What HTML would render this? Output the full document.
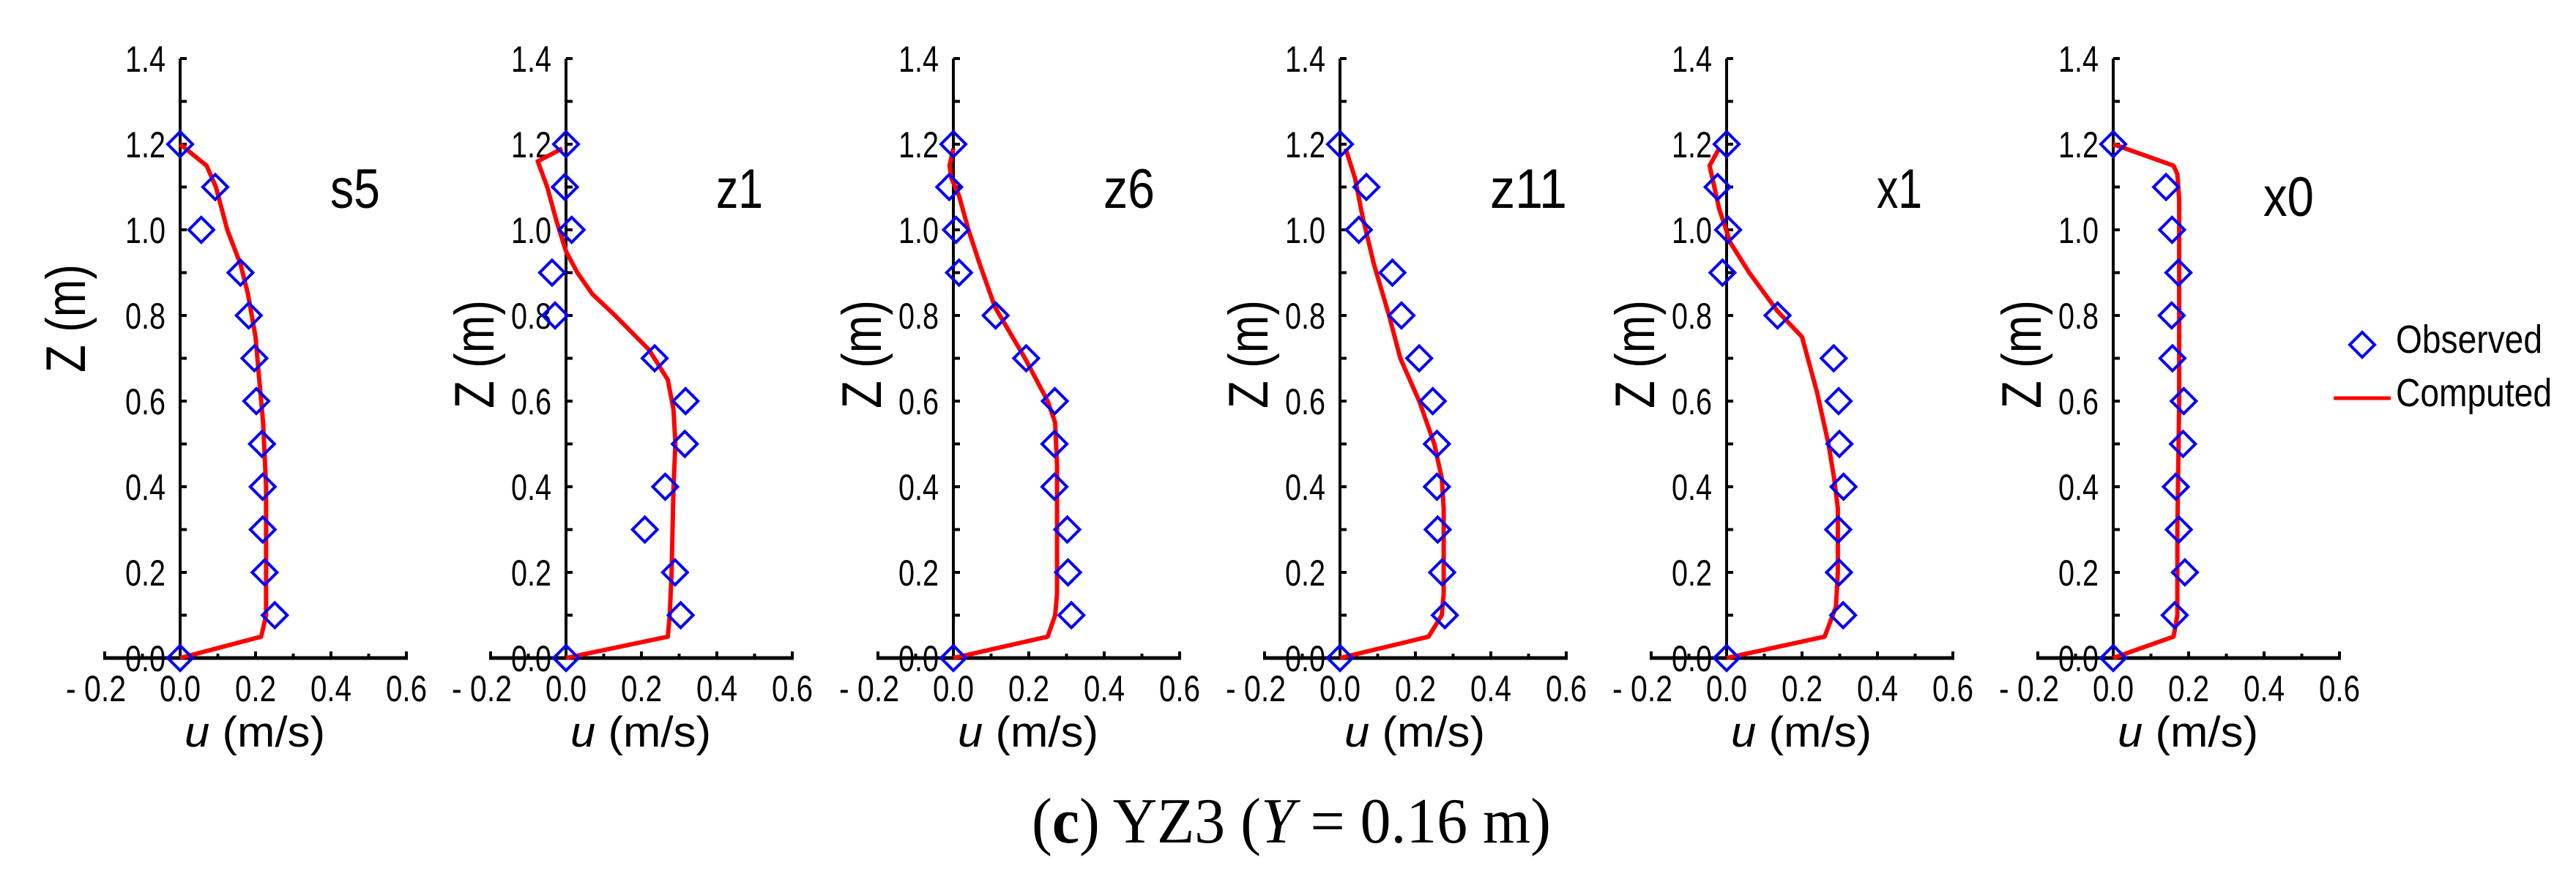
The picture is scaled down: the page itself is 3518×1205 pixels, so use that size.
<!DOCTYPE html>
<html><head><meta charset="utf-8">
<style>
html,body{margin:0;padding:0;background:#fff;}
svg{display:block;}
</style></head>
<body>
<svg id="chart" width="3518" height="1205" viewBox="0 0 3518 1205" xmlns="http://www.w3.org/2000/svg" font-family="'Liberation Sans', Arial, sans-serif">
<rect width="3518" height="1205" fill="#fff"/>
<g id="panels"></g>
<g>
  <path d="M3209 471 L3226 454 L3243 471 L3226 488 Z" fill="none" stroke="#0000ff" stroke-width="4"/>
  <text x="3272" y="482" font-size="54" textLength="200" lengthAdjust="spacingAndGlyphs">Observed</text>
  <line x1="3187" y1="544" x2="3265" y2="544" stroke="#ff0000" stroke-width="5"/>
  <text x="3272" y="555" font-size="54" textLength="213" lengthAdjust="spacingAndGlyphs">Computed</text>
</g>
<text x="1409" y="1151" font-family="'Liberation Serif', serif" font-size="88" textLength="709" lengthAdjust="spacingAndGlyphs">(<tspan font-weight="bold">c</tspan>) YZ3 (<tspan font-style="italic">Y</tspan> = 0.16 m)</text>
</svg>
<script>
// ---- data ----
const panelNames = ["s5","z1","z6","z11","x1","x0"];
const obsZ = [0,0.1,0.2,0.3,0.4,0.5,0.6,0.7,0.8,0.9,1.0,1.1,1.2];
const obsU_s5  = [0,0.251,0.224,0.219,0.219,0.217,0.202,0.197,0.182,0.160,0.056,0.093,0];
const obsU_z1  = [0,0.304,0.289,0.209,0.263,0.315,0.317,0.235,-0.029,-0.037,0.015,-0.003,0];
const obsU_z6  = [0,0.313,0.304,0.302,0.268,0.268,0.269,0.193,0.112,0.015,0.007,-0.011,0];
const obsU_z11 = [0,0.278,0.271,0.259,0.257,0.257,0.246,0.210,0.163,0.139,0.050,0.070,0];
const obsU_x1  = [0,0.309,0.298,0.296,0.310,0.299,0.297,0.284,0.135,-0.011,0.004,-0.024,0];
const obsU_x0  = [0,0.163,0.190,0.174,0.166,0.185,0.187,0.157,0.155,0.173,0.156,0.140,0];
const compZ_s5  = [0,0.05,0.1,0.4,0.55,0.65,0.75,0.85,0.92,1.0,1.1,1.15,1.2];
const compU_s5  = [0,0.215,0.228,0.228,0.22,0.21,0.2,0.18,0.16,0.125,0.095,0.07,0];
const compZ_z1  = [0,0.05,0.1,0.2,0.4,0.5,0.58,0.65,0.72,0.8,0.85,0.9,0.95,1.02,1.1,1.16,1.19];
const compU_z1  = [0,0.27,0.275,0.28,0.285,0.29,0.285,0.27,0.22,0.13,0.07,0.03,0.0,-0.025,-0.05,-0.075,-0.01];
const compZ_z6  = [0,0.05,0.1,0.15,0.45,0.55,0.6,0.7,0.82,0.92,1.0,1.08,1.12,1.15,1.19];
const compU_z6  = [0,0.25,0.27,0.275,0.275,0.27,0.25,0.19,0.11,0.07,0.04,0.015,-0.005,-0.01,0];
const compZ_z11 = [0,0.05,0.1,0.15,0.35,0.42,0.5,0.6,0.7,0.8,0.92,1.03,1.12,1.19];
const compU_z11 = [0,0.235,0.27,0.275,0.275,0.27,0.25,0.21,0.16,0.13,0.09,0.06,0.04,0.015];
const compZ_x1  = [0,0.05,0.12,0.2,0.35,0.42,0.5,0.62,0.75,0.81,0.9,0.97,1.05,1.15,1.19];
const compU_x1  = [0,0.26,0.29,0.295,0.295,0.285,0.27,0.24,0.2,0.135,0.06,0.01,-0.02,-0.045,-0.02];
const compZ_x0  = [0,0.05,0.1,0.3,0.6,1.07,1.13,1.15,1.2];
const compU_x0  = [0,0.16,0.17,0.17,0.175,0.175,0.17,0.16,0];
const xTickVals = [-0.2,0.0,0.2,0.4,0.6];
const xTickLabels = ["- 0.2","0.0","0.2","0.4","0.6"];
const yTickVals = [0,0.2,0.4,0.6,0.8,1.0,1.2,1.4];
const yTickLabels = ["0.0","0.2","0.4","0.6","0.8","1.0","1.2","1.4"];

const obsU = [obsU_s5,obsU_z1,obsU_z6,obsU_z11,obsU_x1,obsU_x0];
const compZ = [compZ_s5,compZ_z1,compZ_z6,compZ_z11,compZ_x1,compZ_x0];
const compU = [compU_s5,compU_z1,compU_z6,compU_z11,compU_x1,compU_x0];

// ---- layout ----
const NS = "http://www.w3.org/2000/svg";
const origins = [246,773,1302,1830,2358,2886];
const Y0 = 899, PXZ = 585, PXU = 515;
const labelW = {"s5":68,"z1":64,"z6":70,"z11":105,"x1":62,"x0":69};
function mk(tag, attrs, parent){const e=document.createElementNS(NS,tag);for(const k in attrs)e.setAttribute(k,attrs[k]);parent.appendChild(e);return e;}
const root = document.getElementById('panels');

panelNames.forEach((name,i)=>{
  const ox = origins[i];
  const xs = u => ox + u*PXU;
  const ys = z => Y0 - z*PXZ;
  const g = mk('g',{},root);
  
  
  // axes
  const ya = mk('line',{x1:ox,y1:ys(1.4),x2:ox,y2:Y0,stroke:'#000','stroke-width':4},g);
  
  
  const xa = mk('line',{x1:xs(-0.2)-2,y1:Y0,x2:xs(0.6)+2,y2:Y0,stroke:'#000','stroke-width':5},g);
  
  
  for(let k=0;k<=14;k++){
    const t = mk('line',{x1:ox,y1:ys(k/10),x2:ox+9,y2:ys(k/10),stroke:'#000','stroke-width':4},g);
    
    
  }
  for(let k=-2;k<=6;k++){
    const t = mk('line',{x1:xs(k/10),y1:Y0,x2:xs(k/10),y2:Y0-(k%2===0?9:6),stroke:'#000','stroke-width':4},g);
    
    
  }
  yTickVals.forEach((v,j)=>{
    const t = mk('text',{x:ox-20,y:ys(v)+18,'text-anchor':'end','font-size':50,textLength:55,lengthAdjust:'spacingAndGlyphs'},g);
    t.textContent = yTickLabels[j];
    
    
  });
  xTickVals.forEach((v,j)=>{
    const w = xTickLabels[j].length>3?82:56;
    const cx = v<0 ? xs(v)-12 : xs(v);
    const t = mk('text',{x:cx-w/2,y:958,'font-size':50,textLength:w,lengthAdjust:'spacingAndGlyphs'},g);
    t.textContent = xTickLabels[j];
    
    
  });
  // axis titles
  const xt = mk('text',{x:ox+6,y:1020,'font-size':58,textLength:192,lengthAdjust:'spacingAndGlyphs'},g);
  xt.innerHTML = '<tspan font-style="italic">u</tspan> (m/s)';
  
  
  const bx = i===0 ? ox-130 : ox-99;
  const cy = i===0 ? 435 : 484;
  const yt = mk('text',{x:0,y:0,'font-size':76,'text-anchor':'middle',transform:`translate(${bx},${cy}) rotate(-90)`,textLength:148,lengthAdjust:'spacingAndGlyphs'},g);
  yt.textContent = 'Z (m)';
  
  
  // panel label
  const pl = mk('text',{x:ox+205,y:i===5?295:284,'font-size':76,textLength:labelW[name],lengthAdjust:'spacingAndGlyphs'},g);
  pl.textContent = name;
  
  
  // computed line
  const pts = compZ[i].map((z,j)=>xs(compU[i][j]).toFixed(1)+','+ys(z).toFixed(1)).join(' ');
  const pln = mk('polyline',{points:pts,fill:'none',stroke:'#ff0000','stroke-width':6,'stroke-linejoin':'round'},g);
  
  
  // observed markers
  obsZ.forEach((z,j)=>{
    const cx = xs(obsU[i][j]), cyy = ys(z);
    const d = mk('path',{d:`M${cx-17} ${cyy} L${cx} ${cyy-17} L${cx+17} ${cyy} L${cx} ${cyy+17} Z`,fill:'none',stroke:'#0000ff','stroke-width':4},g);
    
    
  });
});
</script>
</body></html>
